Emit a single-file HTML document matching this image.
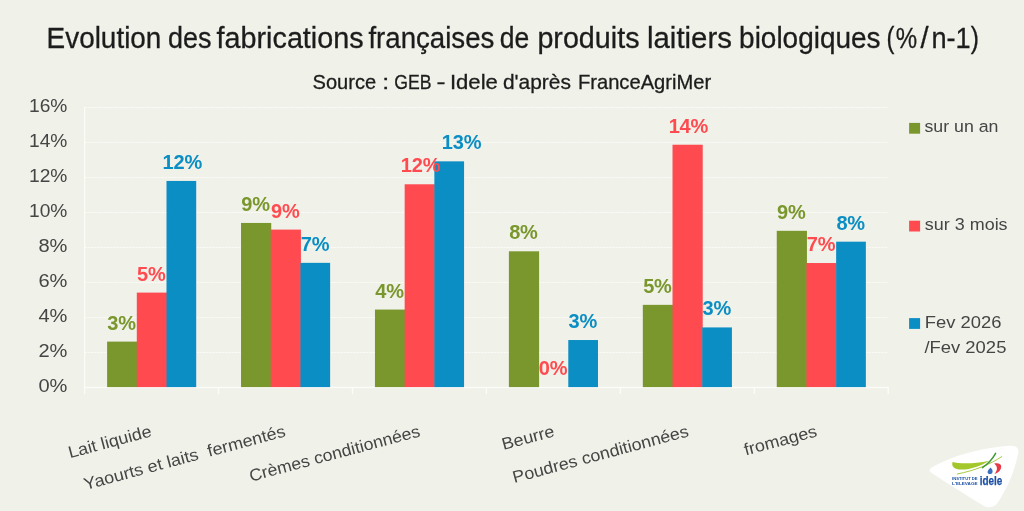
<!DOCTYPE html>
<html lang="fr"><head><meta charset="utf-8"><title>Evolution des fabrications françaises de produits laitiers biologiques</title>
<style>
html,body{margin:0;padding:0;background:#f0f1e9;}
body{width:1024px;height:511px;overflow:hidden;}
svg{display:block;font-family:"Liberation Sans",Arial,sans-serif;}
.t{fill:#1c1c1c;stroke:#1c1c1c;stroke-width:0.3px;}
.ax{fill:#454545;font-size:17.5px;}
.lc{fill:#454545;font-size:16.8px;}
.dl{font-weight:bold;font-size:20px;text-anchor:middle;letter-spacing:-0.2px;}
</style></head><body>
<svg width="1024" height="511" viewBox="0 0 1024 511">
<rect width="1024" height="511" fill="#f0f1e9"/>
<g class="t" font-size="29">
<text x="46.6" y="48.1" textLength="114.8" lengthAdjust="spacingAndGlyphs">Evolution</text>
<text x="167.9" y="48.1" textLength="43.5" lengthAdjust="spacingAndGlyphs">des</text>
<text x="216.6" y="48.1" textLength="147.0" lengthAdjust="spacingAndGlyphs">fabrications</text>
<text x="368.4" y="48.1" textLength="126.0" lengthAdjust="spacingAndGlyphs">françaises</text>
<text x="499.7" y="48.1" textLength="29.5" lengthAdjust="spacingAndGlyphs">de</text>
<text x="537.4" y="48.1" textLength="102.1" lengthAdjust="spacingAndGlyphs">produits</text>
<text x="647.0" y="48.1" textLength="84.9" lengthAdjust="spacingAndGlyphs">laitiers</text>
<text x="739.1" y="48.1" textLength="141.4" lengthAdjust="spacingAndGlyphs">biologiques</text>
<text x="886.5" y="48.1" textLength="7.9" lengthAdjust="spacingAndGlyphs">(</text>
<text x="895.8" y="48.1" textLength="21.4" lengthAdjust="spacingAndGlyphs">%</text>
<text x="920.5" y="48.1">/</text>
<text x="931.4" y="48.1" textLength="39.2" lengthAdjust="spacingAndGlyphs">n-1</text>
<text x="970.8" y="48.1" textLength="8.2" lengthAdjust="spacingAndGlyphs">)</text>
</g>
<g class="t" font-size="21">
<text x="312.5" y="89" textLength="63.6" lengthAdjust="spacingAndGlyphs">Source</text>
<text x="382.3" y="89" textLength="6.9" lengthAdjust="spacingAndGlyphs">:</text>
<text x="394.2" y="89" textLength="37.2" lengthAdjust="spacingAndGlyphs">GEB</text>
<text x="436.4" y="89" textLength="9.0" lengthAdjust="spacingAndGlyphs">-</text>
<text x="449.9" y="89" textLength="48.0" lengthAdjust="spacingAndGlyphs">Idele</text>
<text x="502.9" y="89" textLength="68.0" lengthAdjust="spacingAndGlyphs">d'après</text>
<text x="577.9" y="89" textLength="133.3" lengthAdjust="spacingAndGlyphs">FranceAgriMer</text>
</g>
<line x1="84.6" x2="888.2" y1="387.5" y2="387.5" stroke="#fcfcf9" stroke-width="1" stroke-opacity="0.85" stroke-dasharray="2.5 0.7"/>
<text class="ax" x="38.4" y="391.8" textLength="29.0" lengthAdjust="spacingAndGlyphs">0%</text>
<line x1="84.6" x2="888.2" y1="352.5" y2="352.5" stroke="#fcfcf9" stroke-width="1" stroke-opacity="0.85" stroke-dasharray="2.5 0.7"/>
<text class="ax" x="38.4" y="356.8" textLength="29.0" lengthAdjust="spacingAndGlyphs">2%</text>
<line x1="84.6" x2="888.2" y1="317.5" y2="317.5" stroke="#fcfcf9" stroke-width="1" stroke-opacity="0.85" stroke-dasharray="2.5 0.7"/>
<text class="ax" x="38.4" y="321.8" textLength="29.0" lengthAdjust="spacingAndGlyphs">4%</text>
<line x1="84.6" x2="888.2" y1="282.5" y2="282.5" stroke="#fcfcf9" stroke-width="1" stroke-opacity="0.85" stroke-dasharray="2.5 0.7"/>
<text class="ax" x="38.4" y="286.8" textLength="29.0" lengthAdjust="spacingAndGlyphs">6%</text>
<line x1="84.6" x2="888.2" y1="247.5" y2="247.5" stroke="#fcfcf9" stroke-width="1" stroke-opacity="0.85" stroke-dasharray="2.5 0.7"/>
<text class="ax" x="38.4" y="251.8" textLength="29.0" lengthAdjust="spacingAndGlyphs">8%</text>
<line x1="84.6" x2="888.2" y1="212.5" y2="212.5" stroke="#fcfcf9" stroke-width="1" stroke-opacity="0.85" stroke-dasharray="2.5 0.7"/>
<text class="ax" x="29.0" y="216.8" textLength="38.4" lengthAdjust="spacingAndGlyphs">10%</text>
<line x1="84.6" x2="888.2" y1="177.5" y2="177.5" stroke="#fcfcf9" stroke-width="1" stroke-opacity="0.85" stroke-dasharray="2.5 0.7"/>
<text class="ax" x="29.0" y="181.8" textLength="38.4" lengthAdjust="spacingAndGlyphs">12%</text>
<line x1="84.6" x2="888.2" y1="142.5" y2="142.5" stroke="#fcfcf9" stroke-width="1" stroke-opacity="0.85" stroke-dasharray="2.5 0.7"/>
<text class="ax" x="29.0" y="146.8" textLength="38.4" lengthAdjust="spacingAndGlyphs">14%</text>
<line x1="84.6" x2="888.2" y1="107.5" y2="107.5" stroke="#fcfcf9" stroke-width="1" stroke-opacity="0.85" stroke-dasharray="2.5 0.7"/>
<text class="ax" x="29.0" y="111.8" textLength="38.4" lengthAdjust="spacingAndGlyphs">16%</text>
<line x1="84.6" x2="84.6" y1="107.1" y2="394.1" stroke="#fcfcf9" stroke-width="1.3"/>
<line x1="84.6" x2="888.2" y1="387.5" y2="387.5" stroke="#fcfcf9" stroke-width="1.3"/>
<line x1="218.5" x2="218.5" y1="387.1" y2="394.1" stroke="#fcfcf9" stroke-width="1.3"/>
<line x1="352.5" x2="352.5" y1="387.1" y2="394.1" stroke="#fcfcf9" stroke-width="1.3"/>
<line x1="486.4" x2="486.4" y1="387.1" y2="394.1" stroke="#fcfcf9" stroke-width="1.3"/>
<line x1="620.3" x2="620.3" y1="387.1" y2="394.1" stroke="#fcfcf9" stroke-width="1.3"/>
<line x1="754.3" x2="754.3" y1="387.1" y2="394.1" stroke="#fcfcf9" stroke-width="1.3"/>
<line x1="888.2" x2="888.2" y1="387.1" y2="394.1" stroke="#fcfcf9" stroke-width="1.3"/>
<rect x="107.10" y="341.60" width="30.20" height="45.50" fill="#7a972d"/>
<rect x="136.80" y="292.60" width="30.20" height="94.50" fill="#ff4b50"/>
<rect x="166.50" y="180.95" width="29.70" height="206.15" fill="#0a8ec4"/>
<rect x="241.03" y="222.95" width="30.20" height="164.15" fill="#7a972d"/>
<rect x="270.73" y="229.60" width="30.20" height="157.50" fill="#ff4b50"/>
<rect x="300.43" y="262.85" width="29.70" height="124.25" fill="#0a8ec4"/>
<rect x="374.96" y="309.58" width="30.20" height="77.52" fill="#7a972d"/>
<rect x="404.66" y="184.28" width="30.20" height="202.82" fill="#ff4b50"/>
<rect x="434.36" y="161.35" width="29.70" height="225.75" fill="#0a8ec4"/>
<rect x="508.89" y="251.30" width="30.20" height="135.80" fill="#7a972d"/>
<rect x="568.29" y="340.03" width="29.70" height="47.07" fill="#0a8ec4"/>
<rect x="642.82" y="304.85" width="30.20" height="82.25" fill="#7a972d"/>
<rect x="672.52" y="144.73" width="30.20" height="242.38" fill="#ff4b50"/>
<rect x="702.22" y="327.43" width="29.70" height="59.68" fill="#0a8ec4"/>
<rect x="776.75" y="230.83" width="30.20" height="156.28" fill="#7a972d"/>
<rect x="806.45" y="263.03" width="30.20" height="124.08" fill="#ff4b50"/>
<rect x="836.15" y="241.68" width="29.70" height="145.43" fill="#0a8ec4"/>
<text class="dl" x="121.6" y="329.5" fill="#7a972d">3%</text>
<text class="dl" x="151.3" y="280.5" fill="#ff4b50">5%</text>
<text class="dl" x="182.3" y="168.9" fill="#0a8ec4">12%</text>
<text class="dl" x="255.6" y="210.9" fill="#7a972d">9%</text>
<text class="dl" x="285.3" y="217.5" fill="#ff4b50">9%</text>
<text class="dl" x="315.0" y="250.8" fill="#0a8ec4">7%</text>
<text class="dl" x="389.5" y="297.5" fill="#7a972d">4%</text>
<text class="dl" x="420.5" y="172.2" fill="#ff4b50">12%</text>
<text class="dl" x="461.5" y="149.3" fill="#0a8ec4">13%</text>
<text class="dl" x="523.4" y="239.2" fill="#7a972d">8%</text>
<text class="dl" x="553.1" y="375.0" fill="#ff4b50">0%</text>
<text class="dl" x="582.8" y="327.9" fill="#0a8ec4">3%</text>
<text class="dl" x="657.4" y="292.8" fill="#7a972d">5%</text>
<text class="dl" x="688.4" y="132.6" fill="#ff4b50">14%</text>
<text class="dl" x="716.8" y="315.3" fill="#0a8ec4">3%</text>
<text class="dl" x="791.3" y="218.7" fill="#7a972d">9%</text>
<text class="dl" x="821.0" y="250.9" fill="#ff4b50">7%</text>
<text class="dl" x="850.7" y="229.6" fill="#0a8ec4">8%</text>
<text class="lc" text-anchor="end" transform="translate(152.5,436.1) rotate(-15)" style="white-space:pre" textLength="85.5" lengthAdjust="spacingAndGlyphs">Lait liquide</text>
<text class="lc" text-anchor="end" transform="translate(286.5,436.1) rotate(-15)" style="white-space:pre" textLength="208.0" lengthAdjust="spacingAndGlyphs">Yaourts et laits  fermentés</text>
<text class="lc" text-anchor="end" transform="translate(421.0,436.1) rotate(-15)" style="white-space:pre" textLength="176.0" lengthAdjust="spacingAndGlyphs">Crèmes conditionnées</text>
<text class="lc" text-anchor="end" transform="translate(555.5,436.1) rotate(-15)" style="white-space:pre" textLength="53.8" lengthAdjust="spacingAndGlyphs">Beurre</text>
<text class="lc" text-anchor="end" transform="translate(689.5,436.1) rotate(-15)" style="white-space:pre" textLength="181.5" lengthAdjust="spacingAndGlyphs">Poudres conditionnées</text>
<text class="lc" text-anchor="end" transform="translate(818.0,436.1) rotate(-15)" style="white-space:pre" textLength="74.8" lengthAdjust="spacingAndGlyphs">fromages</text>
<rect x="909.1" y="122.9" width="11" height="10.8" fill="#7a972d"/>
<text class="lc" x="924.4" y="132.3" textLength="74.1" lengthAdjust="spacingAndGlyphs">sur un an</text>
<rect x="909.1" y="220.7" width="11" height="10.8" fill="#ff4b50"/>
<text class="lc" x="924.8" y="230.3" textLength="82.8" lengthAdjust="spacingAndGlyphs">sur 3 mois</text>
<rect x="909.1" y="318.1" width="11" height="10.8" fill="#0a8ec4"/>
<text class="lc" x="924.7" y="327.8" textLength="76.7" lengthAdjust="spacingAndGlyphs">Fev 2026</text>
<text class="lc" x="924.4" y="352.7" textLength="82" lengthAdjust="spacingAndGlyphs">/Fev 2025</text>
<g id="logo">
<path d="M930.8,468.3 C945,459 975,448.5 1010,445.8 C1016.5,445.3 1019.3,448.5 1018.2,453.5 C1014,474 1006,490 998,502.3 C994.5,507.6 988.5,509 982.6,505.2 C966,495 949,484.300 932,473.3 C929.3,471.500 929,469.5 930.8,468.3 Z" fill="#ffffff"/>
<path d="M952.6,461.9 C958,463.5 972,464.500 989.3,460.7 C981,465.6 970,469.900 961,469.6 C955,469.4 950.8,466.5 952.6,461.9 Z" fill="#a4c82c"/>
<path d="M957.3,474 C975,470.5 990,464.500 1001.8,456.6" fill="none" stroke="#9cc42a" stroke-width="0.9" stroke-linecap="round"/>
<path d="M982.5,467.6 C988,464 992.500,459 995.6,453.4" fill="none" stroke="#3f9a35" stroke-width="1.5" stroke-linecap="round"/>
<path d="M994.2,463.5 C998,462.6 1001.5,463.6 1001.2,467 C1000.8,470.5 998,473 994.6,474 C997.8,470 997.8,466.5 994.2,463.5 Z" fill="#e63a47"/>
<path d="M990.6,467.6 C988,470 986.6,472.4 988.4,473.7 C990.6,474.800 993,473.5 992.600,471 C992.3,469.5 991.3,468.5 990.6,467.6 Z" fill="#3a6fc0"/>
<text x="952" y="480.4" font-size="4.2" font-weight="bold" fill="#1d50a6" textLength="25.6" lengthAdjust="spacingAndGlyphs">INSTITUT DE</text>
<text x="952" y="485.2" font-size="4.2" font-weight="bold" fill="#1d50a6" textLength="25.6" lengthAdjust="spacingAndGlyphs">L'ELEVAGE</text>
<text x="979.7" y="485.2" font-size="12.3" font-weight="bold" fill="#1d50a6" stroke="#1d50a6" stroke-width="0.25" textLength="22.6" lengthAdjust="spacingAndGlyphs">idele</text>
</g>
</svg>
</body></html>
